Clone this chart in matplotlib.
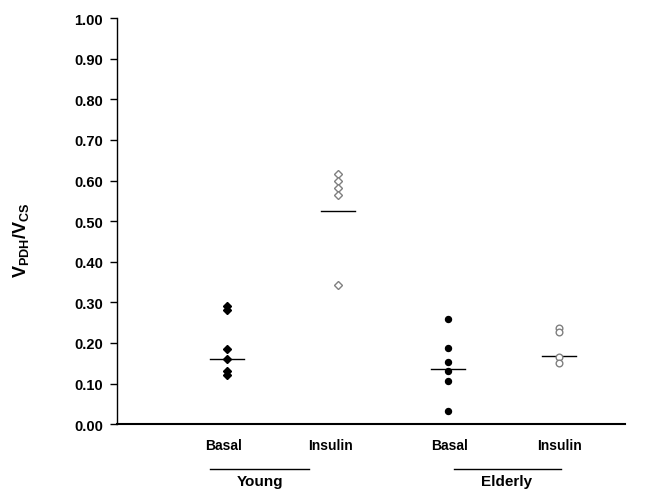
import matplotlib.pyplot as plt
import matplotlib
matplotlib.rcParams['font.family'] = ['Liberation Sans', 'DejaVu Sans']
matplotlib.rcParams['font.weight'] = 'bold'
matplotlib.rcParams['mathtext.fontset'] = 'custom'
matplotlib.rcParams['mathtext.rm'] = 'Liberation Sans:bold'
matplotlib.rcParams['mathtext.bf'] = 'Liberation Sans:bold'
matplotlib.rcParams['mathtext.it'] = 'Liberation Sans:bold'

# group data (V_PDH / V_CS)
young_basal = [0.290, 0.282, 0.185, 0.160, 0.130, 0.122]
young_insulin = [0.615, 0.600, 0.582, 0.565, 0.342]
elderly_basal = [0.260, 0.187, 0.152, 0.130, 0.107, 0.032]
elderly_insulin = [0.237, 0.228, 0.165, 0.150]
group_means = [0.160, 0.525, 0.137, 0.168]

cond_labels = ["Basal", "Insulin", "Basal", "Insulin"]
group_labels = ["Young", "Elderly"]
y_ticks = [0.0, 0.1, 0.2, 0.3, 0.4, 0.5, 0.6, 0.7, 0.8, 0.9, 1.0]

series = [
    (young_basal, dict(marker='D', ms=4.2, mfc='black', mec='black')),
    (young_insulin, dict(marker='D', ms=4.2, mfc='white', mec='#808080', mew=1.0)),
    (elderly_basal, dict(marker='o', ms=4.3, mfc='black', mec='black')),
    (elderly_insulin, dict(marker='o', ms=4.8, mfc='white', mec='#808080', mew=1.0)),
]

fig = plt.figure(figsize=(6.56, 5.02), dpi=100)
ax = fig.add_axes([0.178, 0.153, 0.775, 0.809])

for i, (vals, style) in enumerate(series):
    xpos = i + 1
    ax.plot([xpos] * len(vals), vals, linestyle='none', **style, zorder=3)
    ax.plot([xpos - 0.155, xpos + 0.155], [group_means[i]] * 2,
            color='black', lw=1.0, zorder=2)

ax.set_xlim(0, 4.6)
ax.set_ylim(0, 1.0)
ax.set_yticks(y_ticks)
ax.set_yticklabels(["%.2f" % t for t in y_ticks], fontsize=10.5, fontweight='bold')
ax.set_xticks([])
ax.tick_params(axis='y', direction='out', length=5, width=1.0, pad=5)
ax.spines['top'].set_visible(False)
ax.spines['right'].set_visible(False)
ax.spines['left'].set_linewidth(1.0)
ax.spines['bottom'].set_linewidth(1.5)

ax.set_ylabel(r'$\mathbf{V_{PDH}/V_{CS}}$', fontsize=13)
ax.yaxis.set_label_coords(-0.169, 0.456)

# category labels and group brackets below the axis
tr = ax.get_xaxis_transform()
label_x = [0.97, 1.93, 3.01, 4.01]
for x, lab in zip(label_x, cond_labels):
    ax.text(x, -0.052, lab, ha='center', va='center', fontsize=10,
            fontweight='bold', transform=tr)
ax.plot([0.845, 1.74], [-0.111, -0.111], color='black', lw=1.0,
        transform=tr, clip_on=False)
ax.plot([3.05, 4.02], [-0.111, -0.111], color='black', lw=1.0,
        transform=tr, clip_on=False)
for x, lab in zip([1.30, 3.53], group_labels):
    ax.text(x, -0.140, lab, ha='center', va='center', fontsize=11,
            fontweight='bold', transform=tr)

fig.savefig("out.png", dpi=100)
